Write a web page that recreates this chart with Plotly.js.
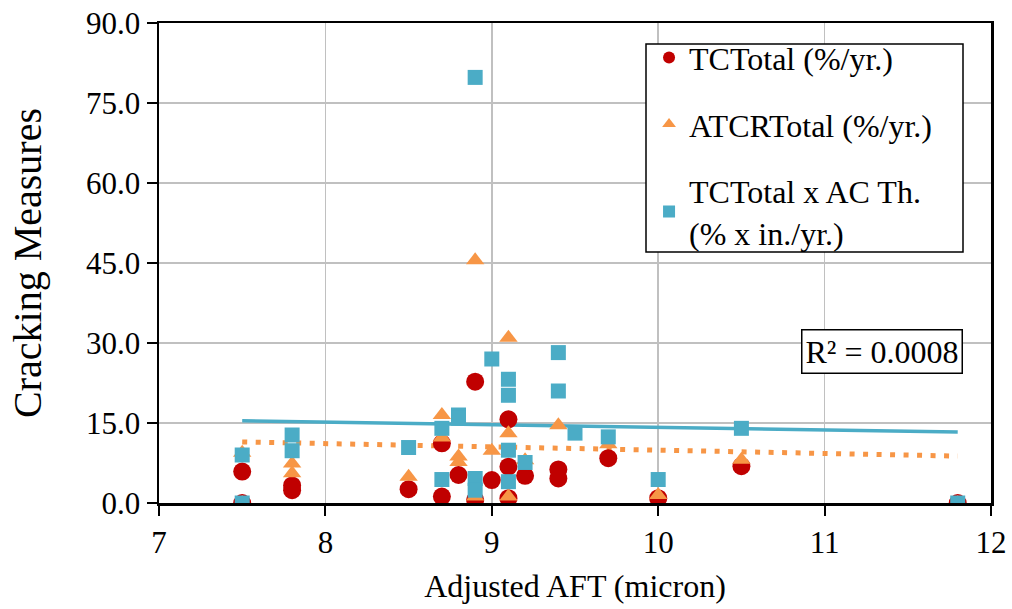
<!DOCTYPE html>
<html>
<head>
<meta charset="utf-8">
<script src="https://cdn.plot.ly/plotly-3.0.1.min.js"></script>
<style>html,body{margin:0;padding:0;background:#fff;}#chart{width:1012px;height:609px;}</style>
</head>
<body>
<div id="chart"></div>
<script>
// TCTotal (%/yr.)
const tcX = [7.5, 7.5, 7.8, 7.8, 8.5, 8.7, 8.7, 8.8, 8.9, 8.9, 9.0, 9.1, 9.1, 9.1, 9.2, 9.4, 9.4, 9.7, 10.0, 10.5, 11.8];
const tcY = [5.9, 0.0, 3.3, 2.4, 2.6, 11.2, 1.2, 5.25, 22.75, 0.6, 4.3, 15.7, 6.8, 0.9, 5.1, 6.3, 4.6, 8.4, 0.9, 6.9, 0.0];
// ATCRTotal (%/yr.)
const atX = [7.5, 7.5, 7.8, 7.8, 8.5, 8.7, 8.7, 8.8, 8.8, 8.9, 8.9, 9.0, 9.1, 9.1, 9.1, 9.2, 9.4, 9.7, 10.0, 10.5, 11.8];
const atY = [9.4, 0.0, 7.4, 5.6, 4.9, 16.5, 12.3, 8.7, 7.7, 45.5, 1.2, 9.8, 31.0, 13.1, 1.2, 8.0, 14.6, 11.0, 1.5, 8.1, 0.0];
// TCTotal x AC Th. (% x in./yr.)
const thX = [7.5, 7.5, 7.8, 7.8, 8.5, 8.7, 8.7, 8.8, 8.8, 8.9, 8.9, 8.9, 9.0, 9.1, 9.1, 9.1, 9.1, 9.2, 9.4, 9.4, 9.5, 9.7, 10.0, 10.5, 11.8];
const thY = [9.0, 0.0, 12.75, 9.8, 10.4, 14.0, 4.4, 16.5, 15.9, 79.8, 4.6, 2.4, 27.0, 23.2, 20.2, 9.9, 4.0, 7.6, 28.2, 21.0, 13.1, 12.4, 4.4, 14.0, 0.0];
// Trendline end points
const trendX = [7.5, 11.8];
const trendThY = [15.4, 13.3];
const trendAtY = [11.45, 8.8];
const xTicks = [7, 8, 9, 10, 11, 12];
const yTicks = [0, 15, 30, 45, 60, 75, 90];

const RED = '#C00000', ORANGE = '#F79646', BLUE = '#4BACC6';
const FONT = 'Liberation Serif, Times New Roman, serif';

const traces = [
  {x: trendX, y: trendThY, mode: 'lines', line: {color: BLUE, width: 3.5}, showlegend: false, hoverinfo: 'skip'},
  {x: trendX, y: trendAtY, mode: 'lines', line: {color: ORANGE, width: 5, dash: '5px,8.5px'}, showlegend: false, hoverinfo: 'skip'},
  {x: tcX, y: tcY, mode: 'markers', name: 'TCTotal (%/yr.)', legendgroup: 'a',
   marker: {symbol: 'circle', size: 18, color: RED}},
  {x: atX, y: atY, mode: 'markers', name: 'ATCRTotal (%/yr.)', legendgroup: 'b',
   marker: {symbol: 'triangle-up', size: 16, color: ORANGE}},
  {x: thX, y: thY, mode: 'markers', name: 'TCTotal x AC Th.<br>(% x in./yr.)', legendgroup: 'c',
   marker: {symbol: 'square', size: 15, color: BLUE}}
];

const layout = {
  width: 1012, height: 609,
  margin: {l: 159, r: 21, t: 23, b: 106},
  paper_bgcolor: '#fff', plot_bgcolor: '#fff',
  font: {family: FONT, size: 30, color: '#000'},
  showlegend: true,
  legend: {x: 0.589, y: 0.985, xanchor: 'left', yanchor: 'top',
    bgcolor: 'rgba(0,0,0,0)', borderwidth: 0,
    font: {family: FONT, size: 32, color: '#000'}, tracegroupgap: 22, itemsizing: 'constant'},
  xaxis: {range: [7, 12], tickvals: xTicks, ticktext: xTicks.map(String),
    showgrid: true, gridcolor: '#C0C0C0', gridwidth: 1.5,
    showline: true, linecolor: '#000', linewidth: 2.5, mirror: true,
    ticks: 'outside', ticklen: 10, tickwidth: 2, tickcolor: '#000', zeroline: false,
    title: {text: 'Adjusted AFT (micron)', font: {family: FONT, size: 32}, standoff: 16},
    tickfont: {family: FONT, size: 31}},
  yaxis: {range: [0, 90], tickvals: yTicks, ticktext: yTicks.map(v => v.toFixed(1)),
    showgrid: true, gridcolor: '#C0C0C0', gridwidth: 1.5,
    showline: true, linecolor: '#000', linewidth: 2.5, mirror: true,
    ticks: 'outside', ticklen: 10, tickwidth: 2, tickcolor: '#000', zeroline: false,
    title: {text: 'Cracking Measures', font: {family: FONT, size: 40}, standoff: 32},
    tickfont: {family: FONT, size: 31}},
  shapes: [{type: 'rect', xref: 'paper', yref: 'paper', layer: 'above',
    x0: (646 - 159) / 832, x1: (963 - 159) / 832, y0: (503 - 252) / 480, y1: (503 - 44) / 480,
    fillcolor: '#fff', line: {color: '#000', width: 1.5}}],
  annotations: [{
    x: 11.345, y: 28.4, xref: 'x', yref: 'y', showarrow: false,
    text: 'R² = 0.0008', font: {family: FONT, size: 32, color: '#000'},
    bgcolor: '#fff', bordercolor: '#000', borderwidth: 1.5, borderpad: 3
  }]
};

Plotly.newPlot('chart', traces, layout, {displayModeBar: false, staticPlot: true});
</script>
</body>
</html>
